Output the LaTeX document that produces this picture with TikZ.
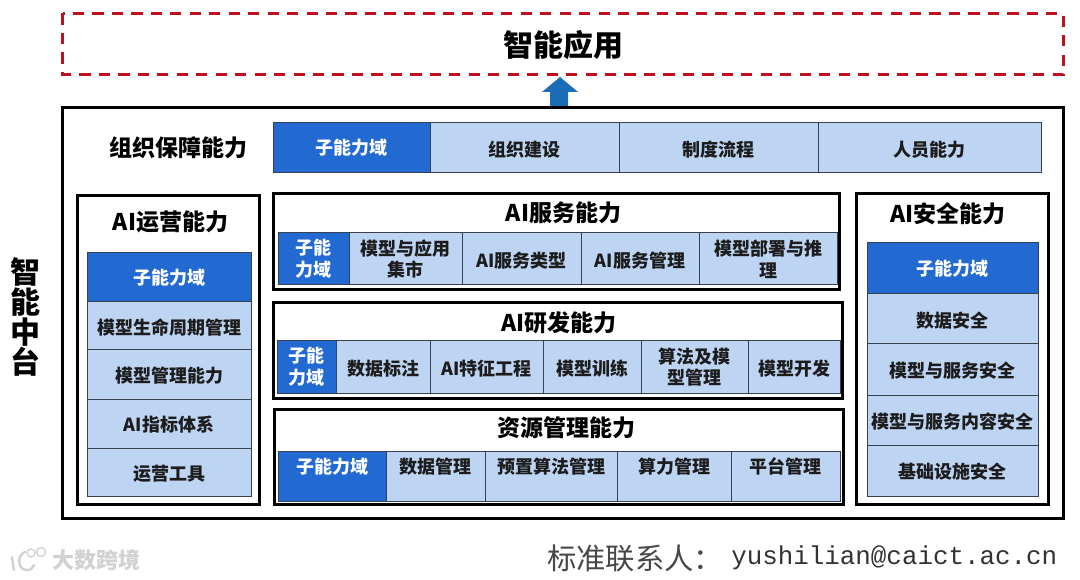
\documentclass[tikz,border=0pt]{standalone}
\usepackage{fontspec}
\setmainfont{Noto Sans CJK SC}
\setmonofont{Liberation Mono}
\definecolor{deepblue}{HTML}{2369D2}
\definecolor{paleblue}{HTML}{BDD4F3}
\definecolor{cellline}{HTML}{36424F}
\definecolor{inkdark}{HTML}{1C1C1C}
\definecolor{dashred}{HTML}{C00F1E}
\definecolor{arrowblue}{HTML}{1B6DB8}
\definecolor{wmgray}{HTML}{D2D2D2}
\tikzset{
  x=0.75pt,y=-0.75pt,
  cellbase/.style={draw=cellline,line width=0.75pt,inner sep=0pt,outer sep=0pt,align=center,font=\fontsize{13.5}{16.3}\selectfont\bfseries},
  subcell/.style={cellbase,fill=deepblue,text=white},
  itemcell/.style={cellbase,fill=paleblue,text=inkdark},
  listcell/.style={itemcell,execute at begin node={\rule{0pt}{14pt}}},
  framebox/.style={draw=black,line width=2.25pt,fill=white,inner sep=0pt,outer sep=0pt},
  headtext/.style={font=\fontsize{17.25}{20}\selectfont\bfseries,text=black,inner sep=0pt},
  bigtext/.style={font=\fontsize{22.5}{22.5}\selectfont\bfseries,text=black,inner sep=0pt,align=center}
}
\newcommand{\tcell}[7]{%
  \node[#1,minimum width={(#5-#3)*0.75pt},minimum height={(#6-#4)*0.75pt}] (#2) at ({(#3+#5)/2},{(#4+#6)/2}) {#7};
}
\newcommand{\rcell}[7]{%
  \node[#1,minimum width={(#5-#3)*0.75pt},minimum height={(#6-#4)*0.75pt}] (#2) at ({(#3+#5)/2},{(#4+#6)/2}) {\smash{\raisebox{1.6pt}{#7}}};
}
\begin{document}
\begin{tikzpicture}
\useasboundingbox (0,0) rectangle (1080,580);
\fill[white] (0,0) rectangle (1080,580);
% top application band
\draw[dashred,line width=2.25pt,dash pattern=on 8.4pt off 6.2pt] (62.5,13.5) rectangle (1063.5,74.5);
\node[bigtext] (app) at (563,45) {智能应用};
% arrow
\fill[arrowblue] (560,77) -- (578,92) -- (568,92) -- (568,107) -- (550,107) -- (550,92) -- (542,92) -- cycle;
% main frame
\tcell{framebox}{platform}{62.5}{107.5}{1063.5}{518.5}{}
\node[bigtext] (platformlabel) at (25,317) {智\\能\\中\\台};
% organisation row
\node[headtext] (orghead) at (178.5,148) {组织保障能力};
\tcell{subcell}{o0}{273}{123}{430}{173}{子能力域}
\tcell{listcell}{o1}{430}{123}{619}{173}{组织建设}
\tcell{listcell}{o2}{619}{123}{818}{173}{制度流程}
\tcell{listcell}{o3}{818}{123}{1041}{173}{人员能力}
% AI ops
\tcell{framebox}{opsbox}{77.5}{195.5}{259.5}{504.5}{}
\node[headtext] (opshead) at (170.5,222) {AI运营能力};
\tcell{subcell}{p0}{87}{253}{251}{302}{子能力域}
\tcell{listcell}{p1}{87}{302}{251}{350}{模型生命周期管理}
\tcell{listcell}{p2}{87}{350}{251}{399}{模型管理能力}
\tcell{listcell}{p3}{87}{399}{251}{448}{AI指标体系}
\tcell{listcell}{p4}{87}{448}{251}{496}{运营工具}
% AI service
\tcell{framebox}{svcbox}{273.5}{193.5}{839.5}{289.5}{}
\node[headtext] (svchead) at (563.5,213) {AI服务能力};
\tcell{subcell}{s0}{278}{233}{349}{285}{子能\\力域}
\tcell{itemcell}{s1}{349}{233}{462}{285}{模型与应用\\集市}
\tcell{listcell}{s2}{462}{233}{581}{285}{AI服务类型}
\tcell{listcell}{s3}{581}{233}{699}{285}{AI服务管理}
\tcell{itemcell}{s4}{699}{233}{837}{285}{模型部署与推\\理}
% AI dev
\tcell{framebox}{devbox}{273.5}{302.5}{842.5}{398.5}{}
\node[headtext] (devhead) at (559,322.5) {AI研发能力};
\tcell{subcell}{d0}{277}{341}{336}{393}{子能\\力域}
\tcell{listcell}{d1}{336}{341}{430}{393}{数据标注}
\tcell{listcell}{d2}{430}{341}{543}{393}{AI特征工程}
\tcell{listcell}{d3}{543}{341}{641}{393}{模型训练}
\tcell{itemcell}{d4}{641}{341}{748}{393}{算法及模\\型管理}
\tcell{listcell}{d5}{748}{341}{840}{393}{模型开发}
% resources
\tcell{framebox}{resbox}{274.5}{409.5}{843.5}{504.5}{}
\node[headtext] (reshead) at (566.5,427.5) {资源管理能力};
\rcell{subcell}{r0}{278}{451}{386}{501}{子能力域}
\rcell{itemcell}{r1}{386}{451}{485}{501}{数据管理}
\rcell{itemcell}{r2}{485}{451}{617}{501}{预置算法管理}
\rcell{itemcell}{r3}{617}{451}{731}{501}{算力管理}
\rcell{itemcell}{r4}{731}{451}{840}{501}{平台管理}
% AI security
\tcell{framebox}{secbox}{856.5}{193.5}{1048.5}{504.5}{}
\node[headtext] (sechead) at (948,214) {AI安全能力};
\tcell{subcell}{e0}{867}{243}{1038}{294}{子能力域}
\tcell{listcell}{e1}{867}{294}{1038}{344}{数据安全}
\tcell{listcell}{e2}{867}{344}{1038}{395}{模型与服务安全}
\tcell{listcell}{e3}{867}{395}{1038}{445}{模型与服务内容安全}
\tcell{listcell}{e4}{867}{445}{1038}{496}{基础设施安全}
% footer
\node[anchor=west,inner sep=0pt,text=black!72,font=\fontsize{22}{24}\selectfont] (contact) at (547,558) {标准联系人：};
\node[anchor=west,inner sep=0pt,text=black!80,font=\fontsize{19.4}{21}\selectfont\ttfamily] (mail) at (731,558) {yushilian@caict.ac.cn};
% watermark
\node[anchor=west,inner sep=0pt,text=wmgray,font=\fontsize{16.5}{18}\selectfont\bfseries] (wm) at (52,560) {大数跨境};
\draw[wmgray,line width=1.8pt,line cap=round] (12,557) -- (14,570);
\draw[wmgray,line width=1.8pt,line cap=round] (25,552) .. controls (17,555) and (17,570) .. (27,570) .. controls (31,570) and (33,568) .. (34,565);
\draw[wmgray,line width=1pt] (31,553) circle[radius=4] (41,552) circle[radius=4.5];
\end{tikzpicture}
\end{document}
